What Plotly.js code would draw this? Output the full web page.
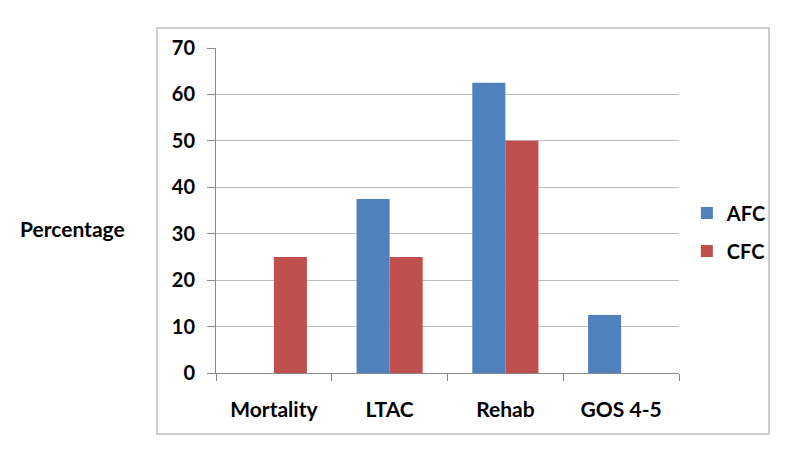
<!DOCTYPE html>
<html>
<head>
<meta charset="utf-8">
<script src="https://cdn.plot.ly/plotly-3.0.1.min.js"></script>
<style>html,body{margin:0;padding:0;background:#fff;}#chart{width:800px;height:452px;}</style>
</head>
<body>
<div id="chart"></div>
<script>
const categories = ["Mortality", "LTAC", "Rehab", "GOS 4-5"];
const afcValues = [0, 37.5, 62.5, 12.5];
const cfcValues = [25, 25, 50, 0];
const yTicks = [0, 10, 20, 30, 40, 50, 60, 70];

const fontFam = "Lato, 'Open Sans', sans-serif";

const data = [
  {type: "bar", name: "AFC", x: categories, y: afcValues, marker: {color: "#4F81BD"}, legendgroup: "a"},
  {type: "bar", name: "CFC", x: categories, y: cfcValues, marker: {color: "#C0504D"}, legendgroup: "b"}
];

const layout = {
  width: 800, height: 452,
  margin: {l: 216, r: 121, t: 48, b: 79, pad: 0},
  paper_bgcolor: "#fff", plot_bgcolor: "#fff",
  barmode: "group", bargap: 0.4286, bargroupgap: 0,
  showlegend: true,
  font: {family: fontFam, color: "#000", size: 20},
  xaxis: {
    type: "category",
    showline: true, linecolor: "#888", linewidth: 1,
    ticks: "outside", tickson: "boundaries", ticklen: 7, tickcolor: "#888",
    tickfont: {family: fontFam, size: 21, weight: "bold"},
    ticklabelstandoff: 18,
    showgrid: false, zeroline: false, fixedrange: true
  },
  yaxis: {
    range: [0, 70], tickvals: yTicks, ticktext: yTicks.map(String),
    showline: true, linecolor: "#888", linewidth: 1,
    ticks: "outside", ticklen: 8, tickcolor: "#888",
    showgrid: true, gridcolor: "#BFBFBF", gridwidth: 1,
    zeroline: false,
    tickfont: {family: fontFam, size: 20, weight: "bold"},
    ticklabelstandoff: 8,
    fixedrange: true
  },
  legend: {
    x: 1.017, xanchor: "left", xref: "paper",
    y: 0.434, yanchor: "middle",
    font: {family: fontFam, size: 20, weight: "bold"},
    itemwidth: 30, tracegroupgap: 9, traceorder: "grouped",
    bgcolor: "rgba(0,0,0,0)", borderwidth: 0
  },
  annotations: [{
    text: "Percentage", xref: "paper", yref: "paper",
    x: -0.311, y: 0.446, xanchor: "center", yanchor: "middle",
    showarrow: false,
    font: {family: fontFam, size: 21, weight: "bold", color: "#000"}
  }],
  shapes: [{
    type: "rect", xref: "paper", yref: "paper",
    x0: -0.1274, x1: 1.1944, y0: -0.1877, y1: 1.0615,
    line: {color: "#BDBDBD", width: 1.5}, fillcolor: "rgba(0,0,0,0)", layer: "below"
  }]
};

Plotly.newPlot("chart", data, layout, {displayModeBar: false, staticPlot: true});
</script>
</body>
</html>
